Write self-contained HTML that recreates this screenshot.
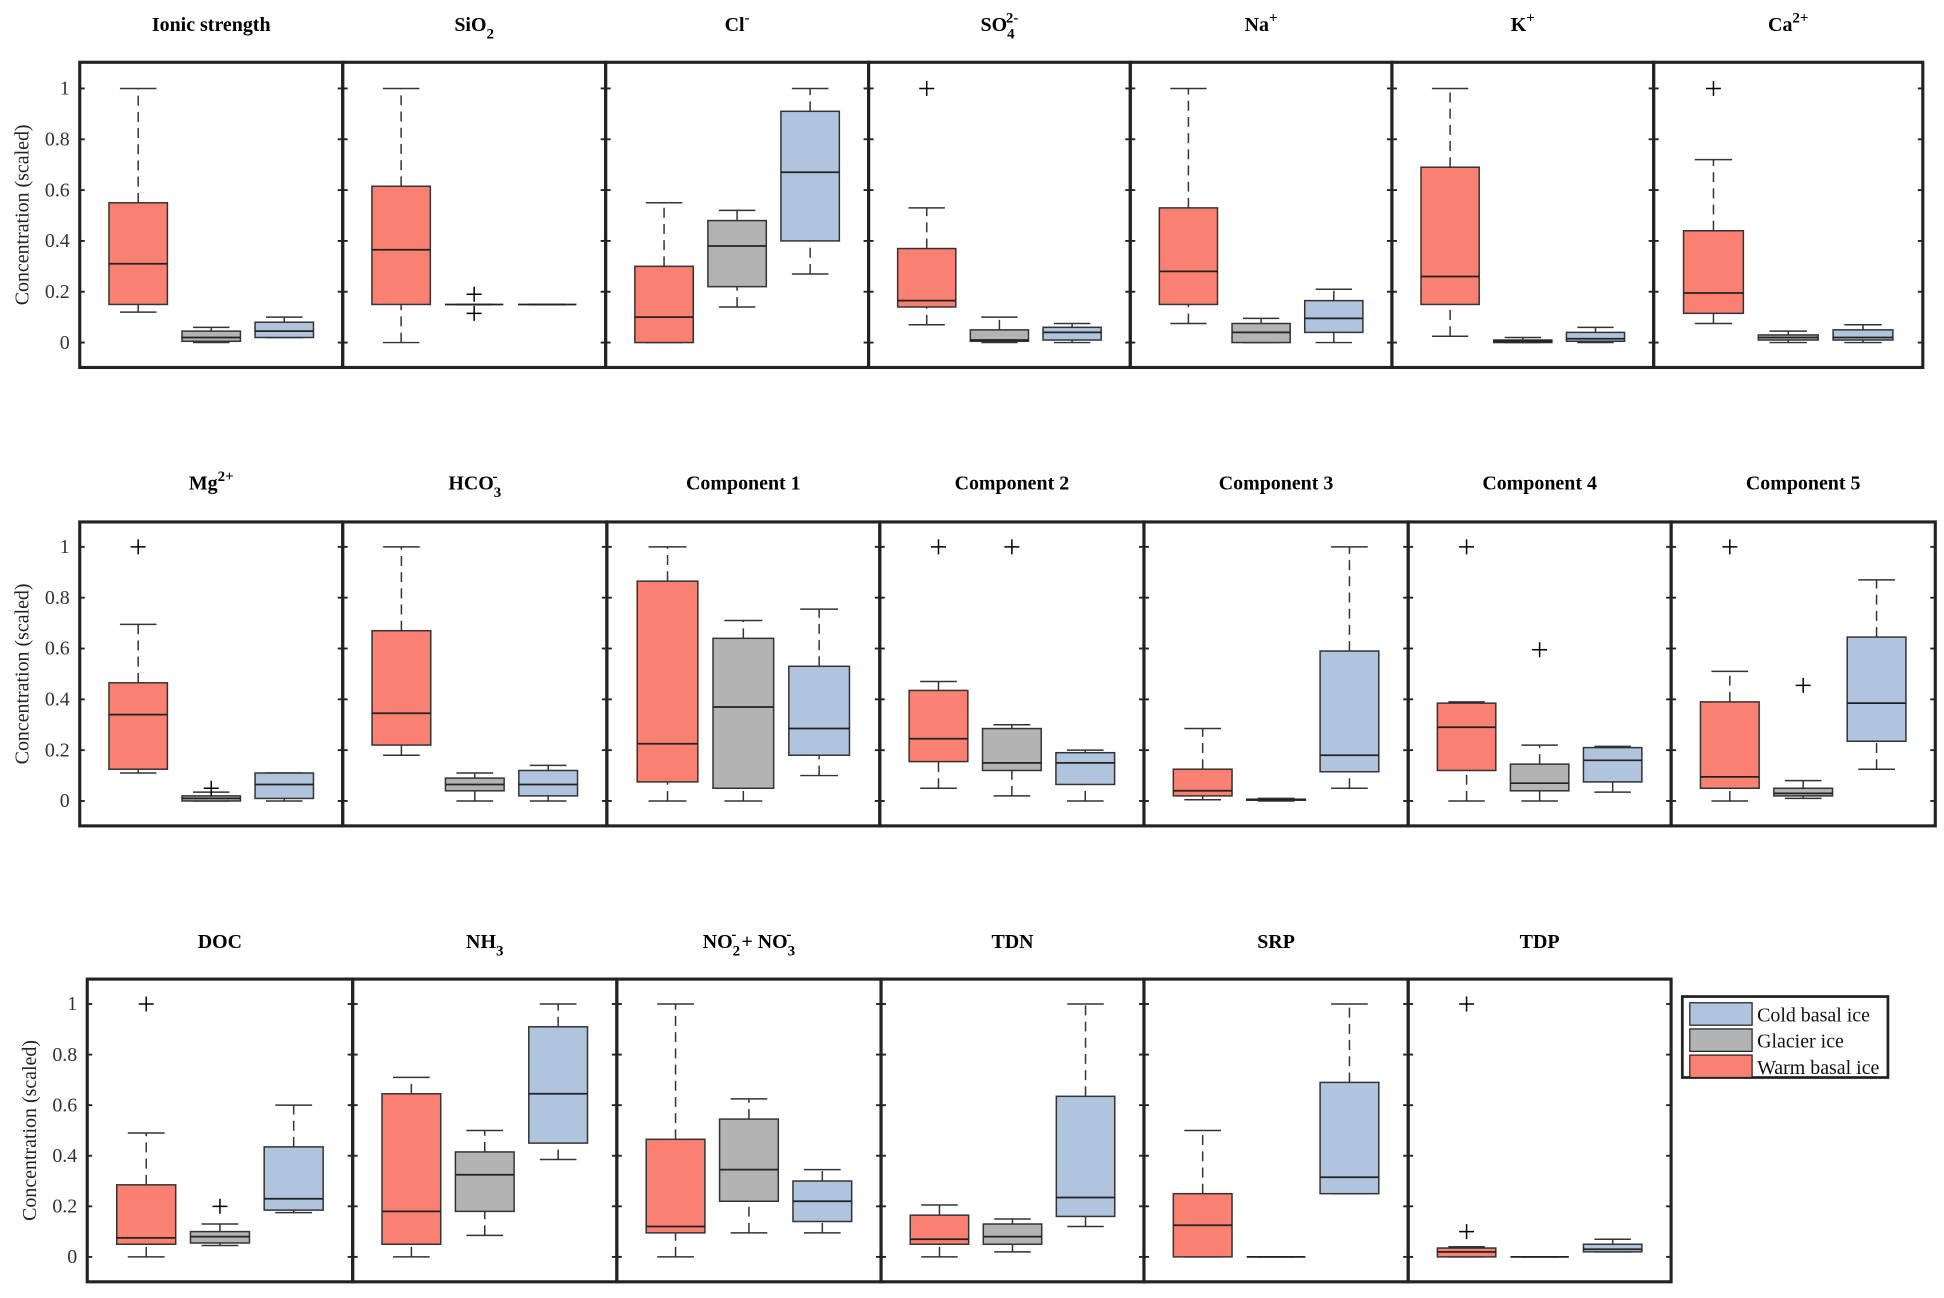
<!DOCTYPE html>
<html><head><meta charset="utf-8"><style>
html,body{margin:0;padding:0;background:#fff;}
svg{display:block;}
text{font-family:"Liberation Serif",serif;}
</style></head><body>
<svg id="chart" width="1944" height="1298" viewBox="0 0 1560 1042" preserveAspectRatio="none" xmlns="http://www.w3.org/2000/svg"></svg>
<script>
// Each group: [lowWhisker, q1, median, q3, highWhisker, outliers]
const panelTitles = ["Ionic strength","SiO2","Cl-","SO42-","Na+","K+","Ca2+","Mg2+","HCO3-","Component 1","Component 2","Component 3","Component 4","Component 5","DOC","NH3","NO2- + NO3-","TDN","SRP","TDP"];
const warmBasal = [
 [0.12,0.15,0.31,0.55,1.0,[]],[0,0.15,0.365,0.615,1,[]],[0,0,0.1,0.3,0.55,[]],[0.07,0.14,0.165,0.37,0.53,[1]],
 [0.075,0.15,0.28,0.53,1,[]],[0.025,0.15,0.26,0.69,1,[]],[0.075,0.115,0.195,0.44,0.72,[1]],
 [0.11,0.125,0.34,0.465,0.695,[1]],[0.18,0.22,0.345,0.67,1,[]],[0,0.075,0.225,0.865,1,[]],[0.05,0.155,0.245,0.435,0.47,[1]],
 [0.005,0.02,0.04,0.125,0.285,[]],[0,0.12,0.29,0.385,0.39,[1]],[0,0.05,0.095,0.39,0.51,[1]],
 [0,0.05,0.075,0.285,0.49,[1]],[0,0.05,0.18,0.645,0.71,[]],[0,0.095,0.12,0.465,1,[]],[0,0.05,0.07,0.165,0.205,[]],
 [0,0,0.125,0.25,0.5,[]],[0,0,0.02,0.035,0.04,[0.1,1]]];
const glacierIce = [
 [0,0.005,0.02,0.045,0.06,[]],[0.15,0.15,0.15,0.15,0.15,[0.19,0.115]],[0.14,0.22,0.38,0.48,0.52,[]],[0,0.005,0.01,0.05,0.1,[]],
 [0,0,0.04,0.075,0.095,[]],[0,0,0.005,0.01,0.02,[]],[0,0.01,0.02,0.03,0.045,[]],
 [0,0,0.01,0.02,0.035,[0.05]],[0,0.04,0.065,0.09,0.11,[]],[0,0.05,0.37,0.64,0.71,[]],[0.02,0.12,0.15,0.285,0.3,[1]],
 [0,0.003,0.005,0.007,0.01,[]],[0,0.04,0.07,0.145,0.22,[0.595]],[0.01,0.02,0.03,0.05,0.08,[0.455]],
 [0.045,0.055,0.08,0.1,0.13,[0.2]],[0.085,0.18,0.325,0.415,0.5,[]],[0.095,0.22,0.345,0.545,0.625,[]],[0.02,0.05,0.08,0.13,0.15,[]],
 [0,0,0,0,0,[]],[0,0,0,0,0,[]]];
const coldBasal = [
 [0.02,0.02,0.045,0.08,0.1,[]],[0.15,0.15,0.15,0.15,0.15,[]],[0.27,0.4,0.67,0.91,1,[]],[0,0.01,0.04,0.06,0.075,[]],
 [0,0.04,0.095,0.165,0.21,[]],[0,0.005,0.015,0.04,0.06,[]],[0,0.01,0.02,0.05,0.07,[]],
 [0,0.01,0.065,0.11,0.11,[]],[0,0.02,0.065,0.12,0.14,[]],[0.1,0.18,0.285,0.53,0.755,[]],[0,0.065,0.15,0.19,0.2,[]],
 [0.05,0.115,0.18,0.59,1,[]],[0.035,0.075,0.16,0.21,0.215,[]],[0.125,0.235,0.385,0.645,0.87,[]],
 [0.175,0.185,0.23,0.435,0.6,[]],[0.385,0.45,0.645,0.91,1,[]],[0.095,0.14,0.22,0.3,0.345,[]],[0.12,0.16,0.235,0.635,1,[]],
 [0.25,0.25,0.315,0.69,1,[]],[0.02,0.02,0.03,0.05,0.07,[]]];
const yTicks = [0,0.2,0.4,0.6,0.8,1];
const yTickLabels = ["0","0.2","0.4","0.6","0.8","1"];
const seriesNames = ["Warm basal ice","Glacier ice","Cold basal ice"];
const seriesColors = ["#FA8072","#B3B3B3","#B0C4DE"];

const rows = [
 {top:50,bottom:295,y1:71,y0:275,xs:[64,275,486,697,907,1117,1327,1543],titleY:25},
 {top:419,bottom:663,y1:439,y0:643,xs:[64,275,487,706,918,1130,1341,1553],titleY:393},
 {top:786,bottom:1029,y1:806,y0:1009,xs:[70,283,495,707,918,1130,1341],titleY:761}
];
const NS="http://www.w3.org/2000/svg";
const svg=document.getElementById('chart');
function mk(tag,attrs,parent){const e=document.createElementNS(NS,tag);for(const k in attrs)e.setAttribute(k,attrs[k]);(parent||svg).appendChild(e);return e;}

function titleMarkup(t,g,x,y){
  const txt=mk('text',{x:x,y:y,'text-anchor':'middle','font-size':16,'font-weight':'bold',fill:'#000'},g);
  
  
  const parts={ "SiO2":[["SiO",0],["2",1]], "Cl-":[["Cl",0],["-",-1]], "SO42-":[["SO",0],["4",1],["2-",-2]],
   "Na+":[["Na",0],["+",-1]], "K+":[["K",0],["+",-1]], "Ca2+":[["Ca",0],["2+",-1]], "Mg2+":[["Mg",0],["2+",-1]],
   "HCO3-":[["HCO",0],["3",1],["-",-2]], "NH3":[["NH",0],["3",1]],
   "NO2- + NO3-":[["NO",0],["2",1],["-",-2],[" + NO",0],["3",1],["-",-2]] }[t];
  if(!parts){txt.textContent=t;return;}
  for(const [s,k] of parts){
    const ts=mk('tspan',{},txt);
    ts.textContent=s;
    if(k===1){ts.setAttribute('dy','6');ts.setAttribute('font-size','12');}
    else if(k===-1){ts.setAttribute('dy','-7');ts.setAttribute('font-size','12');}
    else if(k===-2){ts.setAttribute('dx','-7');ts.setAttribute('dy','-13');ts.setAttribute('font-size','12');}
    else {ts.setAttribute('font-size','16');}
    // reset baseline after sub/sup
    if(k!==0){const nx=parts[parts.indexOf(parts.find(p=>p[0]===s&&p[1]===k))+1];}
  }
  // rebuild precisely with baseline resets
  txt.textContent='';
  let cur=0;
  for(const [s,k] of parts){
    const ts=mk('tspan',{},txt);
    ts.textContent=s;
    let target = k===1?6:(k===0?0:-7);
    let dy=target-cur; cur=target;
    if(dy!==0) ts.setAttribute('dy',dy);
    if(k===-2) ts.setAttribute('dx','-7');
    ts.setAttribute('font-size', k===0?'16':'12');
  }
}

let idx=0;
rows.forEach((r,ri)=>{
  const ys=v=>r.y0-(r.y0-r.y1)*v;
  for(let p=0;p<r.xs.length-1;p++){
    const L=r.xs[p],R=r.xs[p+1],W=R-L;
    const xs=u=>L+(u-0.2)/3.6*W;
    const g=mk('g',{});
    
    
    titleMarkup(panelTitles[idx],g,(L+R)/2,r.titleY);
    // ticks
    yTicks.forEach((t,ti)=>{
      const y=ys(t);
      const tk1=mk('line',{x1:L,x2:L+4,y1:y,y2:y,stroke:'#222','stroke-width':1.5},g);
      
      
      const tk2=mk('line',{x1:R-4,x2:R,y1:y,y2:y,stroke:'#222','stroke-width':1.5},g);
      
      
      if(p===0){
        const lb=mk('text',{x:L-8,y:y+5,'text-anchor':'end','font-size':16,fill:'#333'},g);
        lb.textContent=yTickLabels[ti];
        
        
      }
    });
    [warmBasal,glacierIce,coldBasal].forEach((ser,si)=>{
      const d=ser[idx]; const cx=xs(si+1); const hw=0.4/3.6*W; const cw=0.25/3.6*W;
      const bg=mk('g',{},g);
      
      
      const wl=mk('line',{x1:cx,x2:cx,y1:ys(d[0]),y2:ys(d[1]),stroke:'#333','stroke-width':1.2,'stroke-dasharray':'8,5'},bg);
      
      
      const wh=mk('line',{x1:cx,x2:cx,y1:ys(d[3]),y2:ys(d[4]),stroke:'#333','stroke-width':1.2,'stroke-dasharray':'8,5'},bg);
      
      
      const c1=mk('line',{x1:cx-cw,x2:cx+cw,y1:ys(d[0]),y2:ys(d[0]),stroke:'#333','stroke-width':1.2},bg);
      
      
      const c2=mk('line',{x1:cx-cw,x2:cx+cw,y1:ys(d[4]),y2:ys(d[4]),stroke:'#333','stroke-width':1.2},bg);
      
      
      const rc=mk('rect',{x:cx-hw,y:ys(d[3]),width:2*hw,height:Math.max(0,ys(d[1])-ys(d[3])),fill:seriesColors[si],stroke:'#333','stroke-width':1.2},bg);
      
      
      const md=mk('line',{x1:cx-hw,x2:cx+hw,y1:ys(d[2]),y2:ys(d[2]),stroke:'#222','stroke-width':1.4},bg);
      
      
      d[5].forEach(o=>{
        const oy=ys(o);
        const op=mk('path',{d:`M${cx-6},${oy}H${cx+6}M${cx},${oy-6}V${oy+6}`,stroke:'#000','stroke-width':1.2,fill:'none'},bg);
        
        
      });
    });
    const fr=mk('rect',{x:L,y:r.top,width:W,height:r.bottom-r.top,fill:'none',stroke:'#222','stroke-width':2.5},g);
    
    
    idx++;
  }
  const yl=mk('text',{x:0,y:0,'text-anchor':'middle','font-size':16,fill:'#222',transform:`translate(${r.xs[0]-41},${(r.top+r.bottom)/2}) rotate(-90)`});
  yl.textContent='Concentration (scaled)';
  
  
});

// legend
const lg=mk('g',{});


mk('rect',{x:1350,y:800,width:165,height:65,fill:'#fff',stroke:'#222','stroke-width':2.2},lg);
[2,1,0].forEach((si,k)=>{
  const y=805+k*21;
  const e=mk('g',{},lg);
  
  
  mk('rect',{x:1356,y:y,width:50,height:18,fill:seriesColors[si],stroke:'#222','stroke-width':1},e);
  const t=mk('text',{x:1410,y:y+15,'font-size':16,fill:'#111'},e);
  t.textContent=seriesNames[si];
});
</script>
</body></html>
